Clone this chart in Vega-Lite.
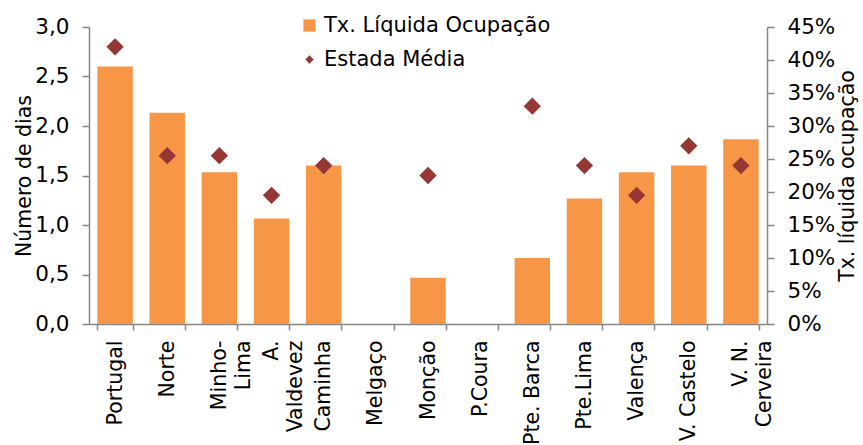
{
  "$schema": "https://vega.github.io/schema/vega-lite/v6.json",
  "width": 678,
  "height": 297,
  "autosize": "none",
  "padding": {"left": 89, "top": 27, "right": 96, "bottom": 121},
  "config": {
    "view": {"stroke": null},
    "font": "DejaVu Sans",
    "axis": {
      "grid": false,
      "domainColor": "#868686",
      "domainWidth": 1.5,
      "tickColor": "#868686",
      "tickWidth": 1.5,
      "tickSize": 7,
      "labelFontSize": 20.5,
      "labelColor": "#000000",
      "labelFont": "DejaVu Sans",
      "titleFont": "DejaVu Sans",
      "titleFontSize": 20.5,
      "titleFontWeight": "normal",
      "titleColor": "#000000"
    },
    "legend": {
      "title": null,
      "labelFontSize": 21,
      "labelFont": "DejaVu Sans",
      "labelColor": "#000000",
      "labelLimit": 0,
      "labelOffset": 4,
      "rowPadding": 12,
      "padding": 0,
      "symbolStrokeWidth": 0,
      "symbolOpacity": 1
    }
  },
  "data": {
    "values": [
      {"cat": "Portugal", "series": "Tx. Líquida Ocupação", "value": 0.39},
      {"cat": "Norte", "series": "Tx. Líquida Ocupação", "value": 0.32},
      {"cat": "Minho-Lima", "series": "Tx. Líquida Ocupação", "value": 0.23},
      {"cat": "A. Valdevez", "series": "Tx. Líquida Ocupação", "value": 0.16},
      {"cat": "Caminha", "series": "Tx. Líquida Ocupação", "value": 0.24},
      {"cat": "Monção", "series": "Tx. Líquida Ocupação", "value": 0.07},
      {"cat": "Pte. Barca", "series": "Tx. Líquida Ocupação", "value": 0.10},
      {"cat": "Pte.Lima", "series": "Tx. Líquida Ocupação", "value": 0.19},
      {"cat": "Valença", "series": "Tx. Líquida Ocupação", "value": 0.23},
      {"cat": "V. Castelo", "series": "Tx. Líquida Ocupação", "value": 0.24},
      {"cat": "V. N. Cerveira", "series": "Tx. Líquida Ocupação", "value": 0.28},
      {"cat": "Portugal", "series": "Estada Média", "value": 2.8},
      {"cat": "Norte", "series": "Estada Média", "value": 1.7},
      {"cat": "Minho-Lima", "series": "Estada Média", "value": 1.7},
      {"cat": "A. Valdevez", "series": "Estada Média", "value": 1.3},
      {"cat": "Caminha", "series": "Estada Média", "value": 1.6},
      {"cat": "Monção", "series": "Estada Média", "value": 1.5},
      {"cat": "Pte. Barca", "series": "Estada Média", "value": 2.2},
      {"cat": "Pte.Lima", "series": "Estada Média", "value": 1.6},
      {"cat": "Valença", "series": "Estada Média", "value": 1.3},
      {"cat": "V. Castelo", "series": "Estada Média", "value": 1.8},
      {"cat": "V. N. Cerveira", "series": "Estada Média", "value": 1.6}
    ]
  },
  "encoding": {
    "x": {
      "field": "cat",
      "type": "nominal",
      "sort": ["Portugal", "Norte", "Minho-Lima", "A. Valdevez", "Caminha", "Melgaço", "Monção", "P.Coura", "Pte. Barca", "Pte.Lima", "Valença", "V. Castelo", "V. N. Cerveira"],
      "scale": {
        "domain": ["Portugal", "Norte", "Minho-Lima", "A. Valdevez", "Caminha", "Melgaço", "Monção", "P.Coura", "Pte. Barca", "Pte.Lima", "Valença", "V. Castelo", "V. N. Cerveira"],
        "paddingInner": 0.32,
        "paddingOuter": 0.16
      },
      "axis": {
        "title": null,
        "tickSize": 6,
        "labelAngle": -90,
        "labelAlign": "right",
        "labelBaseline": "middle",
        "labelPadding": 10,
        "labelLineHeight": 24,
        "tickBand": "extent",
        "labelExpr": "datum.label == 'Minho-Lima' ? ['Minho-', 'Lima'] : datum.label == 'A. Valdevez' ? ['A.', 'Valdevez'] : datum.label == 'V. N. Cerveira' ? ['V. N.', 'Cerveira'] : datum.label"
      }
    }
  },
  "layer": [
    {
      "transform": [{"filter": "datum.series == 'Tx. Líquida Ocupação'"}],
      "mark": {"type": "bar", "color": "#F79646"},
      "encoding": {
        "y": {
          "field": "value",
          "type": "quantitative",
          "scale": {"domain": [0, 0.45]},
          "axis": {
            "orient": "right",
            "title": "Tx. líquida ocupação",
            "titleAngle": 270,
            "titleBaseline": "top",
            "titlePadding": 3,
            "labelFontSize": 21.5,
            "labelPadding": 13,
            "values": [0, 0.05, 0.1, 0.15, 0.2, 0.25, 0.3, 0.35, 0.4, 0.45],
            "format": ".0%"
          }
        },
        "color": {
          "field": "series",
          "type": "nominal",
          "scale": {"domain": ["Tx. Líquida Ocupação", "Estada Média"], "range": ["#F79646", "#953735"]},
          "legend": {
            "orient": "none",
            "legendX": 210,
            "legendY": -12,
            "encode": {"symbols": {"update": {"size": {"signal": "datum.value === 'Estada Média' ? 70 : 150"}}}}
          }
        }
      }
    },
    {
      "transform": [{"filter": "datum.series == 'Estada Média'"}],
      "mark": {"type": "point", "filled": true, "size": 300, "opacity": 1},
      "encoding": {
        "y": {
          "field": "value",
          "type": "quantitative",
          "scale": {"domain": [0, 3]},
          "axis": {
            "orient": "left",
            "title": "Número de dias",
            "titlePadding": 0,
            "labelFontSize": 21.5,
            "labelPadding": 13,
            "values": [0, 0.5, 1, 1.5, 2, 2.5, 3],
            "labelExpr": "replace(format(datum.value, '.1f'), '.', ',')"
          }
        },
        "color": {
          "field": "series",
          "type": "nominal",
          "scale": {"domain": ["Tx. Líquida Ocupação", "Estada Média"], "range": ["#F79646", "#953735"]},
          "legend": {
            "orient": "none",
            "legendX": 210,
            "legendY": -12,
            "encode": {"symbols": {"update": {"size": {"signal": "datum.value === 'Estada Média' ? 70 : 150"}}}}
          }
        },
        "shape": {
          "field": "series",
          "type": "nominal",
          "scale": {"domain": ["Tx. Líquida Ocupação", "Estada Média"], "range": ["square", "diamond"]},
          "legend": {
            "orient": "none",
            "legendX": 210,
            "legendY": -12,
            "encode": {"symbols": {"update": {"size": {"signal": "datum.value === 'Estada Média' ? 70 : 150"}}}}
          }
        }
      }
    }
  ],
  "resolve": {"scale": {"y": "independent"}}
}
